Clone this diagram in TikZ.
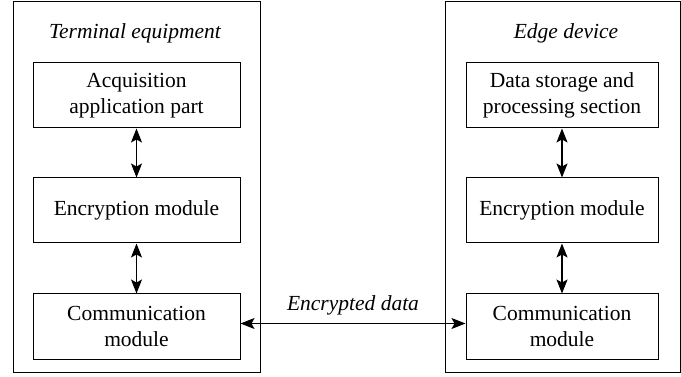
\documentclass[tikz,border=0pt]{standalone}
\usepackage{fontspec}
\setmainfont{Liberation Serif}
\usetikzlibrary{arrows.meta, positioning}

\begin{document}
\begin{tikzpicture}[x=1pt, y=-1pt, every node/.style={font=\fontsize{21.5}{26}\selectfont},
    frame/.style={draw, line width=1pt, minimum height=370pt, inner sep=0pt},
    block/.style={draw, line width=1pt, minimum height=65pt, align=center, inner sep=0pt},
    title/.style={font=\fontsize{21.5}{26}\selectfont\itshape},
    link/.style={{Stealth[length=14pt,width=11pt,inset=3pt]}-{Stealth[length=14pt,width=11pt,inset=3pt]}, line width=1.1pt}]
    \useasboundingbox (0,0) rectangle (681,377);
    % terminal side
    \node[frame, minimum width=247pt] (tframe) at (136.5,187) {};
    \node[title] (ttitle) at (135,33) {Terminal equipment};
    \node[block, minimum width=207pt] (tacq) at (136.5,95.5) {Acquisition\\application part};
    \node[block, minimum width=207pt, below=49pt of tacq] (tenc) {Encryption module};
    \node[block, minimum width=207pt, below=50pt of tenc] (tcom) {Communication\\module};
    % edge side
    \node[frame, minimum width=235pt] (eframe) at (562.5,187) {};
    \node[title] (etitle) at (566,33) {Edge device};
    \node[block, minimum width=192pt] (estore) at (562,95.5) {Data storage and\\processing section};
    \node[block, minimum width=192pt, below=49pt of estore] (eenc) {Encryption module};
    \node[block, minimum width=192pt, below=50pt of eenc] (ecom) {Communication\\module};
    % connectors
    \foreach \a/\b in {tacq/tenc, tenc/tcom, estore/eenc, eenc/ecom}
      \draw[link] (\a) -- (\b);
    \draw[link] ([yshift=3pt]tcom.east) -- node[above=4pt, font=\fontsize{21.5}{26}\selectfont\itshape] (label) {Encrypted data} ([yshift=3pt]ecom.west);
\end{tikzpicture}
\end{document}
